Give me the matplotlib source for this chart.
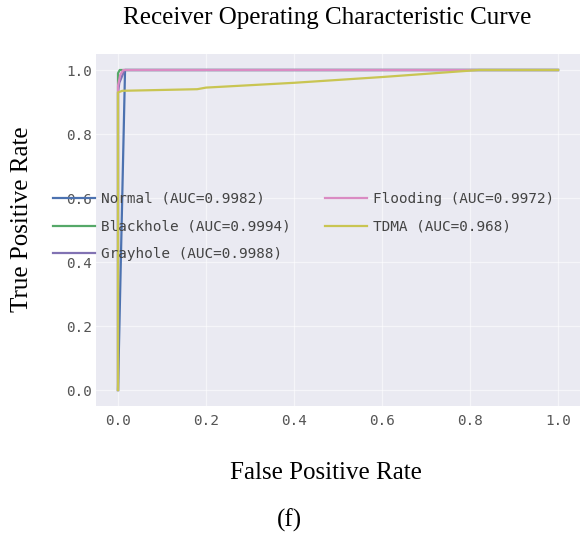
import matplotlib
matplotlib.use("Agg")
import matplotlib.pyplot as plt

# ROC curve points per traffic class
normal_fpr = [0.0, 0.016, 1.0]
normal_tpr = [0.0, 1.0, 1.0]
blackhole_fpr = [0.0, 0.0, 0.004, 1.0]
blackhole_tpr = [0.0, 0.99, 1.0, 1.0]
grayhole_fpr = [0.0, 0.0, 0.003, 0.015, 1.0]
grayhole_tpr = [0.0, 0.93, 0.96, 1.0, 1.0]
flooding_fpr = [0.0, 0.0, 0.005, 0.012, 1.0]
flooding_tpr = [0.0, 0.95, 0.985, 1.0, 1.0]
tdma_fpr = [0.0, 0.0, 0.01, 0.18, 0.2, 0.4, 0.6, 0.82, 1.0]
tdma_tpr = [0.0, 0.93, 0.935, 0.94, 0.945, 0.96, 0.978, 1.0, 1.0]

labels = ["Normal (AUC=0.9982)", "Blackhole (AUC=0.9994)", "Grayhole (AUC=0.9988)",
          "Flooding (AUC=0.9972)", "TDMA (AUC=0.968)"]
colors = ["#4C72B0", "#55A868", "#8172B3", "#DA8BC3", "#C9C552"]
ticks = [0.0, 0.2, 0.4, 0.6, 0.8, 1.0]
tick_labels = ["0.0", "0.2", "0.4", "0.6", "0.8", "1.0"]

fig = plt.figure(figsize=(5.81, 5.39), dpi=100)
ax = fig.add_axes([96 / 581, 1 - 406 / 539, 484 / 581, 352 / 539])
ax.set_facecolor("#EAEAF2")
for s in ax.spines.values():
    s.set_visible(False)
ax.grid(True, color="white", linewidth=0.9, alpha=0.55)
ax.set_axisbelow(True)

series = [(normal_fpr, normal_tpr), (blackhole_fpr, blackhole_tpr),
          (grayhole_fpr, grayhole_tpr), (flooding_fpr, flooding_tpr),
          (tdma_fpr, tdma_tpr)]
for (fx, ty), lab, c in zip(series, labels, colors):
    ax.plot(fx, ty, color=c, linewidth=1.6, label=lab)

ax.set_xlim(-0.05, 1.05)
ax.set_ylim(-0.05, 1.05)
ax.set_xticks(ticks)
ax.set_yticks(ticks)
ax.set_xticklabels(tick_labels)
ax.set_yticklabels(tick_labels)
ax.tick_params(length=0, labelsize=10.4, labelcolor="#555555", pad=6)
for t in ax.get_xticklabels() + ax.get_yticklabels():
    t.set_family("DejaVu Sans Mono")
ax.tick_params(axis="y", pad=3)

handles, labs = ax.get_legend_handles_labels()
leg = fig.legend(handles, labs, ncol=2, frameon=False, loc="upper left",
                 bbox_to_anchor=(53 / 581, 1 - 192 / 539), bbox_transform=fig.transFigure,
                 borderpad=0, borderaxespad=0, handlelength=2.9, handletextpad=0.4,
                 columnspacing=2.4, labelspacing=0.95,
                 prop={"family": "DejaVu Sans Mono", "size": 10.4})
for t in leg.get_texts():
    t.set_color("#444444")

serif = "Liberation Serif"
fig.text(327 / 581, 1 - 18 / 539, "Receiver Operating Characteristic Curve",
         family=serif, size=18, ha="center", va="center")
fig.text(326 / 581, 1 - 473 / 539, "False Positive Rate",
         family=serif, size=18, ha="center", va="center")
fig.text(22 / 581, 1 - 219 / 539, "True Positive Rate",
         family=serif, size=18, ha="center", va="center", rotation=90)
fig.text(289 / 581, 1 - 520 / 539, "(f)",
         family=serif, size=18, ha="center", va="center")

fig.savefig("out.png", dpi=100)
